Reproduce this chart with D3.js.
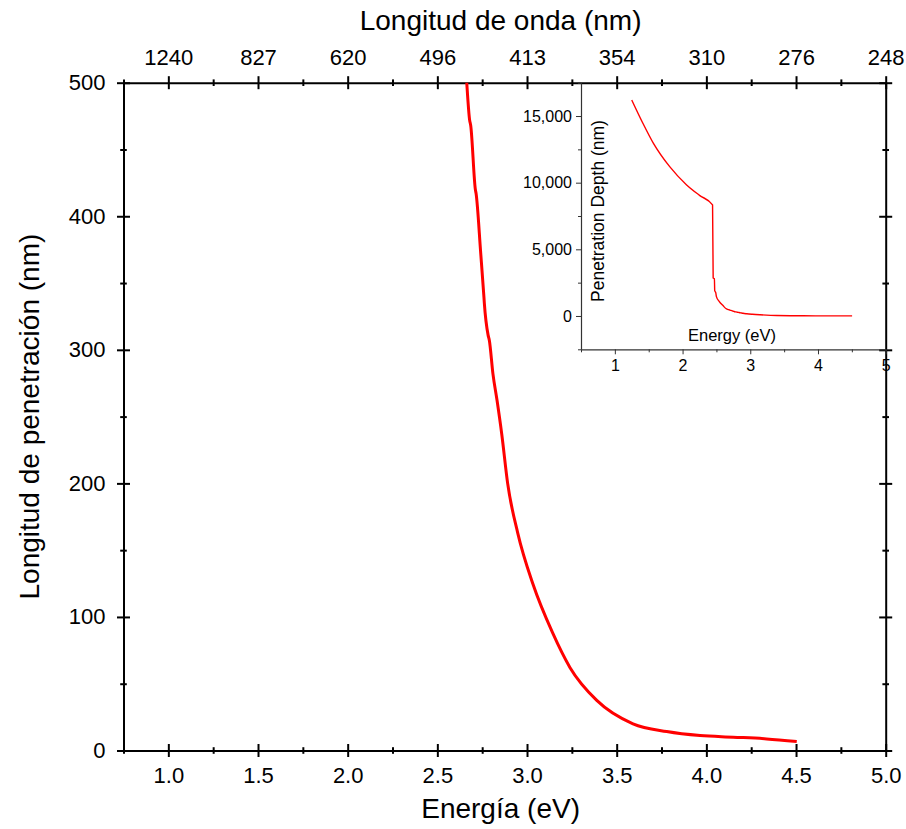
<!DOCTYPE html>
<html>
<head>
<meta charset="utf-8">
<script src="https://cdn.jsdelivr.net/npm/d3@7"></script>
<style>
  body { margin: 0; background: #fff; }
  svg { display: block; font-family: "Liberation Sans", Arial, sans-serif; }
</style>
</head>
<body>
<div id="chart"></div>
<script>
// --- data ---
const energy = [1.25, 1.41, 1.57, 1.81, 2.06, 2.25, 2.443, 2.452, 2.47, 2.475, 2.49, 2.50, 2.54, 2.60, 2.64,
  2.664, 2.680, 2.686, 2.712, 2.716, 2.742, 2.760, 2.762, 2.783, 2.790, 2.810, 2.833, 2.859, 2.892,
  2.948, 3.032, 3.143, 3.240, 3.389, 3.591, 3.779, 3.965, 4.149, 4.336, 4.504];
const depth = [16200, 14500, 12950, 11200, 9830, 9050, 8330, 2850, 2800, 1900, 1750, 1450, 1100, 760, 560,
  500, 472, 468, 420, 417, 372, 339, 335, 311, 307, 282, 262, 237, 200,
  163, 125, 88, 62, 37.5, 20, 14.2, 11.2, 10, 8.7, 6.7];

const xMajor = [1.0, 1.5, 2.0, 2.5, 3.0, 3.5, 4.0, 4.5, 5.0];
const xMinor = [0.75, 1.25, 1.75, 2.25, 2.75, 3.25, 3.75, 4.25, 4.75];
const yMajor = [0, 100, 200, 300, 400, 500];
const yMinor = [50, 150, 250, 350, 450];
const waveLabels = ["1240", "827", "620", "496", "413", "354", "310", "276", "248"];

const insetXMajor = [1, 2, 3, 4, 5];
const insetXMinor = [0.5, 1.5, 2.5, 3.5, 4.5];
const insetYMajor = [0, 5000, 10000, 15000];
const insetYMinor = [-2500, 2500, 7500, 12500, 17500];

const W = 906, H = 829;
const L = 123.5, R = 885.7, T = 82.7, B = 750.5;

const svg = d3.select("#chart").append("svg").attr("width", W).attr("height", H);

const x = d3.scaleLinear().domain([0.75, 5.0]).range([L, R]);
const y = d3.scaleLinear().domain([0, 500]).range([B, T]);

// cross ticks: shift d3's tick lines so they straddle the axis
function crossTicks(g, len, vertical) {
  g.selectAll(".tick line").attr(vertical ? "x1" : "y1", -len).attr(vertical ? "x2" : "y2", len)
    .attr("stroke", "#000").attr("stroke-width", 2);
}

function styleAxis(g) {
  g.select(".domain").attr("stroke", "#000").attr("stroke-width", 2);
  g.selectAll("text").attr("fill", "#000").style("font-size", "22px");
}

// bottom axis
const bottomMinorG = svg.append("g").attr("transform", `translate(0,${B})`)
  .call(d3.axisBottom(x).tickValues(xMinor).tickSizeOuter(0).tickFormat(""));
crossTicks(bottomMinorG, 3.3, false);
bottomMinorG.select(".domain").remove();
const bottomG = svg.append("g").attr("transform", `translate(0,${B})`)
  .call(d3.axisBottom(x).tickValues(xMajor).tickSizeOuter(0).tickFormat(d3.format(".1f")).tickPadding(11));
crossTicks(bottomG, 6.5, false);
styleAxis(bottomG);

// top axis (wavelength)
const topMinorG = svg.append("g").attr("transform", `translate(0,${T})`)
  .call(d3.axisTop(x).tickValues(xMinor).tickSizeOuter(0).tickFormat(""));
crossTicks(topMinorG, 3.3, false);
topMinorG.select(".domain").remove();
const topG = svg.append("g").attr("transform", `translate(0,${T})`)
  .call(d3.axisTop(x).tickValues(xMajor).tickSizeOuter(0)
    .tickFormat((d, i) => waveLabels[i]).tickPadding(12));
crossTicks(topG, 6.5, false);
styleAxis(topG);

// left axis
const leftMinorG = svg.append("g").attr("transform", `translate(${L},0)`)
  .call(d3.axisLeft(y).tickValues(yMinor).tickSizeOuter(0).tickFormat(""));
crossTicks(leftMinorG, 3.3, true);
leftMinorG.select(".domain").remove();
const leftG = svg.append("g").attr("transform", `translate(${L},0)`)
  .call(d3.axisLeft(y).tickValues(yMajor).tickSizeOuter(0).tickPadding(12));
crossTicks(leftG, 6.5, true);
styleAxis(leftG);

// right axis (no labels)
const rightMinorG = svg.append("g").attr("transform", `translate(${R},0)`)
  .call(d3.axisRight(y).tickValues(yMinor).tickSizeOuter(0).tickFormat(""));
crossTicks(rightMinorG, 3.3, true);
rightMinorG.select(".domain").remove();
const rightG = svg.append("g").attr("transform", `translate(${R},0)`)
  .call(d3.axisRight(y).tickValues(yMajor).tickSizeOuter(0).tickFormat(""));
crossTicks(rightG, 6.5, true);
styleAxis(rightG);

// axis titles
svg.append("text").attr("x", (L + R) / 2 - 4).attr("y", 818).attr("text-anchor", "middle")
  .style("font-size", "28px").text("Energía (eV)");
svg.append("text").attr("x", (L + R) / 2 - 4).attr("y", 30).attr("text-anchor", "middle")
  .style("font-size", "28px").text("Longitud de onda (nm)");
svg.append("text").attr("transform", `translate(39,${(T + B) / 2}) rotate(-90)`)
  .attr("text-anchor", "middle").style("font-size", "28px").text("Longitud de penetración (nm)");

// main curve, clipped to the plot area
svg.append("clipPath").attr("id", "clipMain").append("rect")
  .attr("x", L).attr("y", T).attr("width", R - L).attr("height", B - T);

const pts = energy.map((e, i) => [e, depth[i]]);

svg.append("path").datum(pts)
  .attr("clip-path", "url(#clipMain)")
  .attr("fill", "none").attr("stroke", "#f00").attr("stroke-width", 3)
  .attr("stroke-linejoin", "round")
  .attr("d", d3.line().curve(d3.curveMonotoneX).x(d => x(d[0])).y(d => y(d[1])));

// --- inset ---
const iL = 581, iR = R, iT = T, iB = 349.3;
const xi = d3.scaleLinear().domain([0.5, 5]).range([iL, iR]);
const yi = d3.scaleLinear().domain([-2500, 17500]).range([iB, iT]);

const insetColor = "#333";

const ixMinor = svg.append("g").attr("transform", `translate(0,${iB})`)
  .call(d3.axisBottom(xi).tickValues(insetXMinor).tickSize(3).tickSizeOuter(0).tickFormat(""));
ixMinor.select(".domain").remove();
ixMinor.selectAll("line").attr("stroke", insetColor);
const ix = svg.append("g").attr("transform", `translate(0,${iB})`)
  .call(d3.axisBottom(xi).tickValues(insetXMajor).tickSize(5).tickSizeOuter(0).tickPadding(5)
    .tickFormat(d3.format("d")));
ix.select(".domain").attr("stroke", insetColor).attr("stroke-width", 1.2);
ix.selectAll("line").attr("stroke", insetColor);
ix.selectAll("text").attr("fill", "#000").style("font-size", "16px");

const iyMinor = svg.append("g").attr("transform", `translate(${iL},0)`)
  .call(d3.axisLeft(yi).tickValues(insetYMinor).tickSize(3).tickSizeOuter(0).tickFormat(""));
iyMinor.select(".domain").remove();
iyMinor.selectAll("line").attr("stroke", insetColor);
const iy = svg.append("g").attr("transform", `translate(${iL},0)`)
  .call(d3.axisLeft(yi).tickValues(insetYMajor).tickSize(5).tickSizeOuter(0).tickPadding(4)
    .tickFormat(d3.format(",")));
iy.select(".domain").attr("stroke", insetColor).attr("stroke-width", 1.2);
iy.selectAll("line").attr("stroke", insetColor);
iy.selectAll("text").attr("fill", "#000").style("font-size", "16px");

svg.append("text").attr("x", 732).attr("y", 341).attr("text-anchor", "middle")
  .style("font-size", "16.5px").text("Energy (eV)");
svg.append("text").attr("transform", `translate(604,211) rotate(-90)`)
  .attr("text-anchor", "middle").style("font-size", "17.5px").text("Penetration Depth (nm)");

svg.append("path").datum(pts)
  .attr("fill", "none").attr("stroke", "#f00").attr("stroke-width", 1.4)
  .attr("stroke-linejoin", "round")
  .attr("d", d3.line().curve(d3.curveMonotoneX).x(d => xi(d[0])).y(d => yi(d[1])));
</script>
</body>
</html>
